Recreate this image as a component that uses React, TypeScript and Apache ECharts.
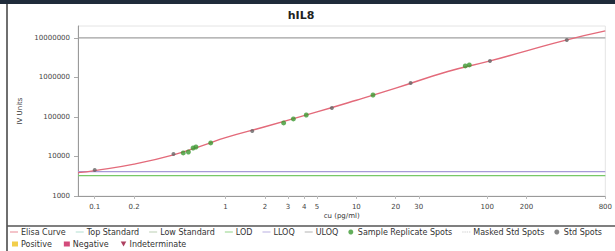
import React, { useEffect, useRef } from "react";
import * as echarts from "echarts";

const title = "hIL8";
const xAxisName = "cu (pg/ml)";
const yAxisName = "IV Units";
const xMin = 0.0745;
const xMax = 800;
const yMin = 1000;
const yMax = 20000000;
const xTickLabels = [0.1, 0.2, 1, 2, 3, 4, 5, 10, 20, 30, 100, 200, 800];

const curveConc = [0.0745, 0.1, 0.2, 0.4, 0.7, 1, 2, 5, 10, 20, 50, 100, 200, 400, 800];
const curveVal = [3900, 4400, 6400, 11000, 20000, 30000, 56600, 134000, 265000, 536000, 1410000, 2500000, 4700000, 8800000, 15000000];

const stdConc = [0.1, 0.4, 1.6, 6.5, 26, 105, 406];
const stdVal = [4550, 11500, 44000, 169000, 726000, 2600000, 8900000];

const sampleConc = [0.475, 0.52, 0.565, 0.594, 0.77, 2.78, 3.3, 4.14, 13.4, 68, 73];
const sampleVal = [12300, 13000, 16400, 17400, 22000, 70500, 89000, 112000, 360000, 1950000, 2070000];

const uloqValue = 10000000;
const lloqValue = 4150;
const lodValue = 3260;

const legendRow1 = ["Elisa Curve", "Top Standard", "Low Standard", "LOD", "LLOQ", "ULOQ", "Sample Replicate Spots", "Masked Std Spots", "Std Spots"];
const legendRow2 = ["Positive", "Negative", "Indeterminate"];

const LINE_ICON = "path://M0,0H20V2H0Z";
const DOT_ICON = "path://M0,0H3V2H0ZM5,0H8V2H5ZM10,0H13V2H10ZM15,0H18V2H15Z";

export default function App() {
  const ref = useRef<HTMLDivElement>(null);
  useEffect(() => {
    if (!ref.current) return;
    const chart = echarts.init(ref.current, null, { renderer: "svg" });
    const font = "DejaVu Sans";
    const pair = (xs: number[], ys: number[]) => xs.map((x, i) => [x, ys[i]]);
    const hLine = (name: string, color: string, value: number | null) => ({
      name,
      type: "line",
      data: value == null ? [] : [[xMin, value], [xMax, value]],
      color,
      symbol: "none",
      showSymbol: false,
      itemStyle: { color },
      lineStyle: { color, width: 1.2 },
      emphasis: { disabled: true },
      z: 2,
    });
    const option: any = {
      animation: false,
      backgroundColor: "#ffffff",
      textStyle: { fontFamily: font },
      title: {
        text: title,
        left: 296,
        textAlign: "center",
        top: 5,
        textStyle: { fontFamily: font, fontSize: 11, fontWeight: "bold", color: "#222" },
      },
      grid: { left: 78, right: 1, top: 26, bottom: 55, show: true, borderColor: "#e4e4e4", borderWidth: 1, backgroundColor: "transparent" },
      xAxis: [
        {
          type: "log",
          min: xMin,
          max: xMax,
          logBase: 10,
          name: xAxisName,
          nameLocation: "middle",
          nameGap: 16,
          nameTextStyle: { fontFamily: font, fontSize: 7, color: "#333" },
          axisLine: { show: true, onZero: false, lineStyle: { color: "#9a9a9a", width: 1 } },
          axisTick: { show: false },
          axisLabel: { show: false },
          splitLine: { show: false },
          minorSplitLine: { show: false },
        },
        {
          type: "value",
          position: "bottom",
          min: Math.log10(xMin),
          max: Math.log10(xMax),
          axisLine: { show: false, onZero: false },
          splitLine: { show: false },
          axisTick: { show: true, length: 3, lineStyle: { color: "#bbb" }, customValues: xTickLabels.map((t) => Math.log10(t)) },
          axisLabel: {
            show: true,
            fontFamily: font,
            fontSize: 7,
            color: "#444",
            margin: 7,
            customValues: xTickLabels.map((t) => Math.log10(t)),
            formatter: (v: number) => {
              const m = xTickLabels.find((t) => Math.abs(Math.log10(t) - v) < 1e-6);
              return m == null ? "" : String(m);
            },
          },
        },
      ],
      yAxis: {
        type: "log",
        min: yMin,
        max: yMax,
        logBase: 10,
        name: yAxisName,
        nameLocation: "middle",
        nameRotate: 90,
        nameGap: 52,
        nameTextStyle: { fontFamily: font, fontSize: 7, color: "#333" },
        axisLine: { show: true, onZero: false, lineStyle: { color: "#9a9a9a", width: 1 } },
        axisTick: { show: true, length: 4, lineStyle: { color: "#aaa" } },
        axisLabel: {
          fontFamily: font,
          fontSize: 7,
          color: "#444",
          margin: 8,
          showMaxLabel: false,
          formatter: (v: number) => String(Math.round(v)),
        },
        splitLine: { show: false },
        minorSplitLine: { show: false },
      },
      legend: [
        {
          data: legendRow1.map((n) => ({
            name: n,
            icon: n === "Sample Replicate Spots" || n === "Std Spots" ? "circle" : n === "Masked Std Spots" ? DOT_ICON : LINE_ICON,
          })),
          left: 10,
          top: 228,
          itemWidth: 8,
          itemHeight: 5,
          itemGap: 10,
          padding: 0,
          textStyle: { fontFamily: font, fontSize: 8, color: "#333", padding: [0, 0, 0, -2] },
        },
        {
          data: legendRow2.map((n) => ({
            name: n,
            icon: n === "Indeterminate" ? "path://M0,0H10L5,9Z" : "rect",
          })),
          left: 12,
          top: 240,
          itemWidth: 6,
          itemHeight: 5,
          itemGap: 12,
          padding: 0,
          textStyle: { fontFamily: font, fontSize: 8, color: "#333", padding: [0, 0, 0, -2] },
        },
      ],
      graphic: [
        { type: "rect", left: 0, top: 0, shape: { width: 615, height: 4 }, style: { fill: "#1f2b3a" }, silent: true },
        { type: "line", shape: { x1: 7, y1: 4, x2: 7, y2: 251 }, style: { stroke: "#6f6f6f", lineWidth: 2 }, silent: true },
        { type: "line", shape: { x1: 7, y1: 226, x2: 615, y2: 226 }, style: { stroke: "#555", lineWidth: 1.5 }, silent: true },
      ],
      series: [
        {
          name: "Elisa Curve",
          type: "line",
          data: pair(curveConc, curveVal),
          smooth: true,
          showSymbol: false,
          symbol: "none",
          color: "#e36a7a",
          lineStyle: { color: "#e36a7a", width: 1.4 },
          z: 3,
        },
        hLine("Top Standard", "#9fd6c6", null),
        hLine("Low Standard", "#a9c2a0", null),
        hLine("LOD", "#78c868", lodValue),
        hLine("LLOQ", "#a69ad8", lloqValue),
        hLine("ULOQ", "#a0a0a0", uloqValue),
        {
          name: "Sample Replicate Spots",
          type: "scatter",
          data: pair(sampleConc, sampleVal),
          symbol: "circle",
          symbolSize: 5,
          color: "#3c9a32",
          itemStyle: { color: "#3c9a32" },
          z: 5,
        },
        { name: "Masked Std Spots", type: "scatter", data: [], color: "#c4c4c4" },
        {
          name: "Std Spots",
          type: "scatter",
          data: pair(stdConc, stdVal),
          symbol: "circle",
          symbolSize: 4,
          color: "#666",
          itemStyle: { color: "#666" },
          z: 6,
        },
        { name: "Positive", type: "scatter", data: [], color: "#efc21e" },
        { name: "Negative", type: "scatter", data: [], color: "#c81e5a" },
        { name: "Indeterminate", type: "scatter", data: [], color: "#991038" },
      ],
    };
    chart.setOption(option);
    return () => chart.dispose();
  }, []);
  return <div ref={ref} style={{ position: "fixed", left: 0, top: 0, width: 615, height: 251 }} />;
}
